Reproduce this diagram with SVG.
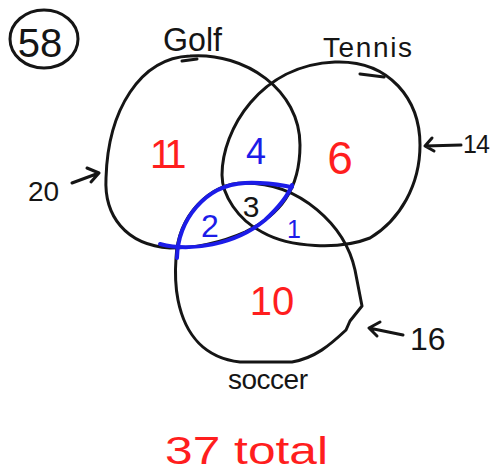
<svg xmlns="http://www.w3.org/2000/svg" width="491" height="473" viewBox="0 0 491 473">
<style>
.ink{fill:none;stroke:#151515;stroke-width:3;stroke-linecap:round;stroke-linejoin:round}
.blue{fill:none;stroke:#1c1ce8;stroke-width:4;stroke-linecap:round;stroke-linejoin:round}
.t{font-family:"Liberation Sans",Arial,sans-serif;fill:#151515}
.r{fill:#ff1e1e}
.b{fill:#1c1ce8}
</style>
<rect width="491" height="473" fill="#fff"/>
<g id="total58">
<ellipse class="ink" cx="44" cy="39" rx="34" ry="29"/>
<text class="t" x="40" y="57" font-size="40" text-anchor="middle">58</text>
</g>
<g id="golf">
<path class="ink" d="M190,56 C245,52 300,90 300,145 C300,190 280,215 245,232 C220,243 195,248 170,248 C125,245 104,215 106,178 C108,110 140,58 190,56 Z"/>
<path class="ink" d="M182,61 L197,59"/>
<text class="t" x="163" y="51" font-size="34" textLength="59" lengthAdjust="spacingAndGlyphs">Golf</text>
</g>
<g id="tennis">
<path class="ink" d="M335,62 C390,60 420,100 420,145 C420,185 400,220 370,238 C340,250 290,248 262,232 C238,220 222,195 222,175 C222,130 260,65 335,62 Z"/>
<path class="ink" d="M360,74 L384,77"/>
<text class="t" x="323" y="57" font-size="28" textLength="89" lengthAdjust="spacing">Tennis</text>
</g>
<g id="soccer">
<path class="ink" d="M176,258 C178,215 210,183 245,183 C300,183 345,225 355,270 L362,306 L350,321 L346,330 C330,345 315,358 292,362 L240,362 C205,358 185,335 178,300 C175,285 175,272 176,258 Z"/>
<text class="t" x="228" y="389" font-size="28" textLength="80" lengthAdjust="spacing">soccer</text>
</g>
<g id="golf-soccer-highlight">
<path class="blue" d="M177,258 C178,220 205,185 245,183 C270,182 284,186 292,187"/>
<path class="blue" d="M160,244 C190,252 235,245 265,220 C278,208 288,196 292,185"/>
</g>
<g id="regions">
<text class="t r" x="150" y="168" font-size="40" letter-spacing="-5">11</text>
<text class="t b" x="256" y="164" font-size="36" text-anchor="middle">4</text>
<text class="t r" x="340" y="174" font-size="46" text-anchor="middle">6</text>
<text class="t" x="251" y="217" font-size="30" text-anchor="middle">3</text>
<text class="t b" x="210" y="237" font-size="32" text-anchor="middle">2</text>
<text class="t b" x="294" y="238" font-size="25" text-anchor="middle">1</text>
<text class="t r" x="272" y="315" font-size="40" text-anchor="middle">10</text>
</g>
<g id="connectors">
<path class="ink" d="M72,183 L99,173 M87,168 L99,173 L91,182"/>
<path class="ink" d="M461,145 L425,146 M432,138 L425,146 L434,151"/>
<path class="ink" d="M403,335 L369,328 M380,322 L369,328 L377,336"/>
</g>
<g id="counts">
<text class="t" x="28" y="201" font-size="28">20</text>
<text class="t" x="463" y="153" font-size="25" letter-spacing="-1">14</text>
<text class="t" x="410" y="350" font-size="32">16</text>
</g>
<text class="t r" x="165" y="464" font-size="38" textLength="163" lengthAdjust="spacingAndGlyphs">37 total</text>
</svg>
